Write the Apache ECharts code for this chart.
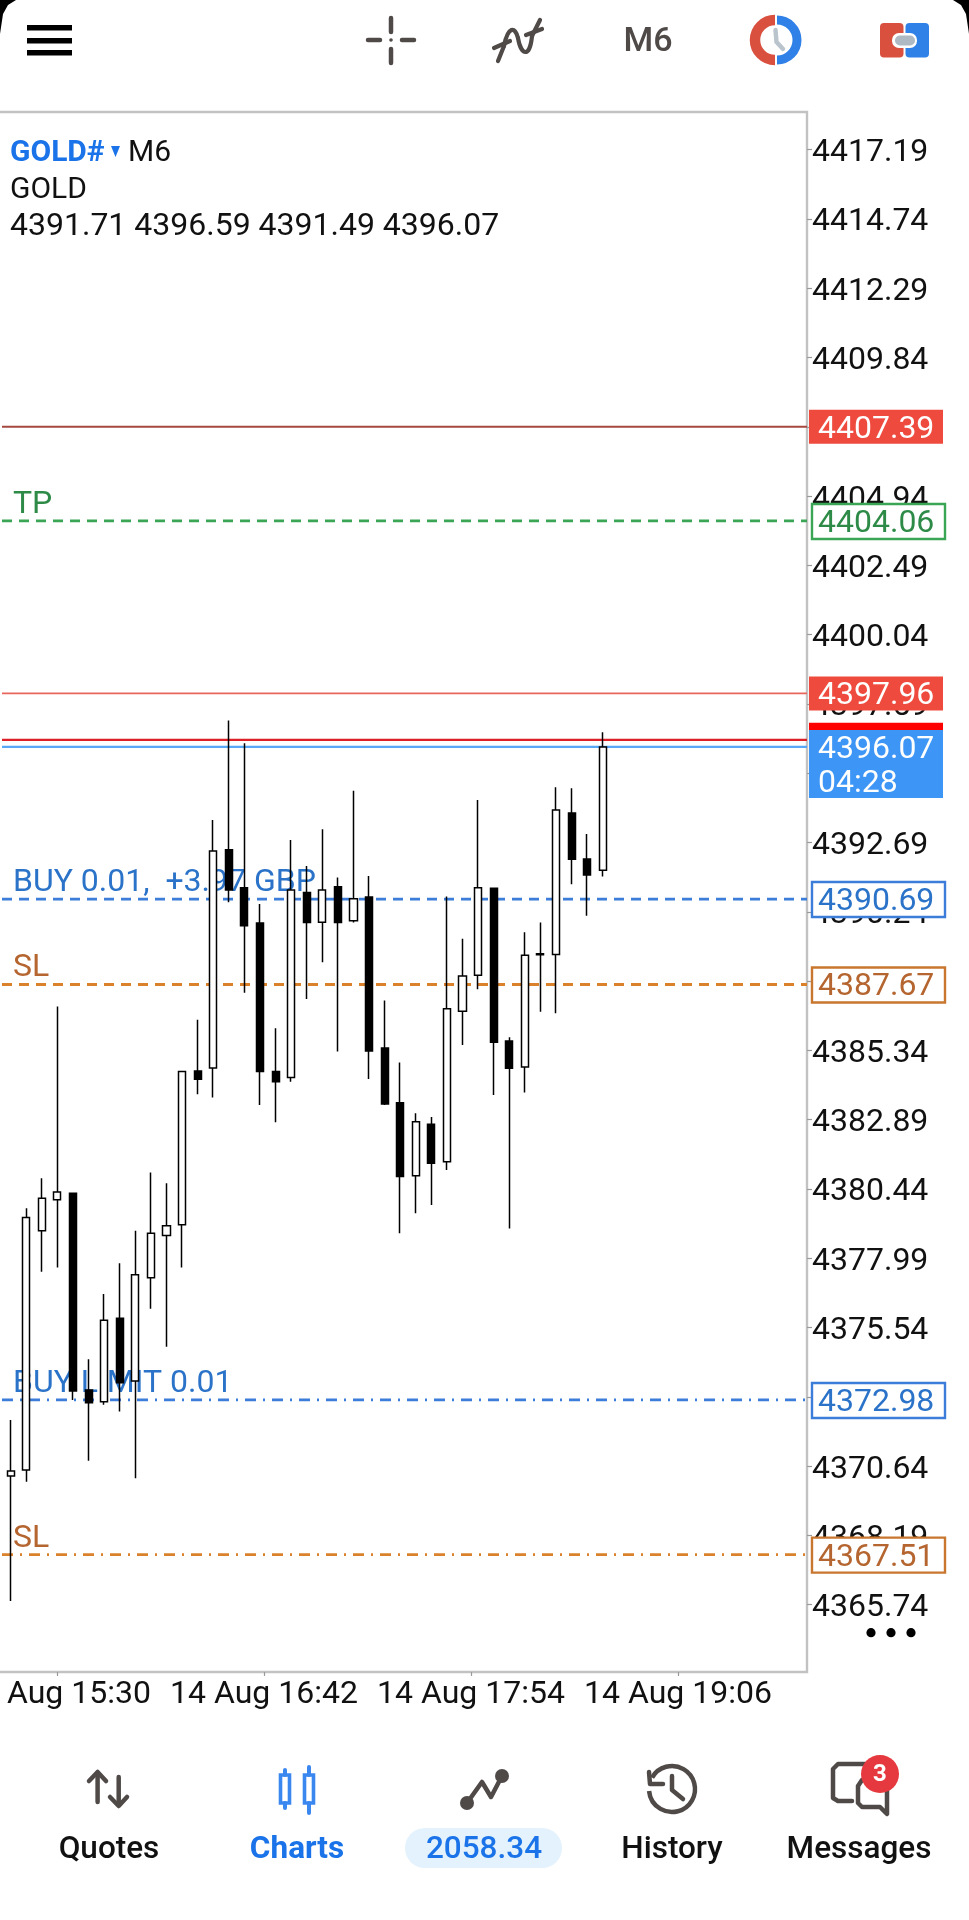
<!DOCTYPE html>
<html>
<head>
<meta charset="utf-8">
<style>html,body{margin:0;padding:0;background:#fff}#c{width:969px;height:1920px}</style>
<script src="https://cdn.jsdelivr.net/npm/echarts@6/dist/echarts.min.js"></script>
</head>
<body>
<div id="c"></div>
<script>
// ---- data ----
const candleOpen = [4370.29,4370.50,4378.96,4380.06,4380.29,4373.33,4372.92,4375.87,4373.65,4377.30,4378.79,4379.17,4384.61,4384.72,4392.43,4391.09,4389.84,4384.59,4384.38,4390.92,4389.87,4391.13,4389.92,4390.76,4385.42,4383.49,4380.91,4382.73,4381.40,4386.72,4388.00,4391.07,4385.67,4384.75,4388.72,4388.73,4393.73,4392.11,4391.71];
const candleClose = [4370.47,4379.43,4380.11,4380.33,4373.30,4372.88,4375.80,4373.59,4377.41,4378.87,4379.14,4384.59,4384.32,4392.39,4391.01,4389.75,4384.59,4384.23,4391.01,4389.86,4391.01,4389.86,4390.70,4385.32,4383.44,4380.88,4382.82,4381.35,4386.81,4387.97,4391.09,4385.63,4384.71,4388.70,4388.76,4393.84,4392.10,4391.54,4396.07];
const candleLow = [4365.87,4370.09,4377.51,4377.66,4372.98,4370.83,4372.81,4372.57,4370.21,4376.20,4374.86,4377.66,4383.79,4383.67,4390.58,4387.38,4383.41,4382.80,4384.23,4387.16,4388.46,4385.30,4389.86,4384.33,4383.41,4378.87,4379.58,4379.87,4381.11,4385.53,4387.50,4383.76,4379.04,4383.85,4386.71,4386.65,4391.21,4390.10,4391.49];
const candleHigh = [4372.27,4379.76,4380.82,4386.89,4380.29,4374.42,4376.73,4377.81,4378.96,4381.02,4380.64,4384.59,4386.42,4393.49,4397.00,4396.20,4390.52,4386.12,4392.78,4391.86,4393.16,4391.45,4394.52,4391.51,4387.10,4384.91,4383.12,4382.98,4390.78,4389.29,4394.19,4391.07,4385.80,4389.52,4389.86,4394.64,4394.61,4392.99,4396.59];
const priceTicks = [4365.74,4368.19,4370.64,4373.09,4375.54,4377.99,4380.44,4382.89,4385.34,4387.79,4390.24,4392.69,4395.14,4397.59,4400.04,4402.49,4404.94,4407.39,4409.84,4412.29,4414.74,4417.19];
const timeTickMinutes = [930,1002,1074,1146];
const timeTickLabels = ['14 Aug 15:30','14 Aug 16:42','14 Aug 17:54','14 Aug 19:06'];
const levelPrices = [4407.39,4404.06,4397.96,4396.32,4396.07,4390.69,4387.67,4372.98,4367.51];
const levelTexts = ['','TP','','','','BUY 0.01,  +3.97 GBP','SL','BUY LIMIT 0.01','SL'];
const levelTags = ['4407.39','4404.06','4397.96','','4396.07','4390.69','4387.67','4372.98','4367.51'];
const countdown = '04:28';
const ohlcHeader = '4391.71 4396.59 4391.49 4396.07';
const balance = '2058.34';
const unread = '3';

// ---- styles ----
const FONT = 'Roboto, sans-serif';
const DARK = '#4f4a48';
const levelStyles = [
  {line:'#a5483f', w:2, dash:null, tag:'fill', fill:'#ef4a3e', text:'#fff'},
  {line:'#3aa655', w:2.8, dash:[10,7], tag:'box', border:'#3aa655', text:'#2e8b47', label:'#2e8b47'},
  {line:'#e8665c', w:1.8, dash:null, tag:'fill', fill:'#ef4a3e', text:'#fff'},
  {line:'#dd2027', w:2.2, dash:null, tag:'fill', fill:'#ff0000', text:'#fff'},
  {line:'#5aa8f5', w:2.2, dash:null, tag:'tall', fill:'#3d95f5', text:'#fff'},
  {line:'#3b7dd8', w:2.8, dash:[10,7], tag:'box', border:'#3b7dd8', text:'#2a73c9', label:'#2a73c9'},
  {line:'#d9822b', w:2.8, dash:[10,7], tag:'box', border:'#c9772f', text:'#b5652f', label:'#b5652f'},
  {line:'#3b7dd8', w:2.8, dash:[11,7,2,7], tag:'box', border:'#3b7dd8', text:'#2a73c9', label:'#2a73c9'},
  {line:'#d9822b', w:2.8, dash:[11,7,2,7], tag:'box', border:'#c9772f', text:'#b5652f', label:'#b5652f'}
];
const Y_MIN = 4363.36, Y_MAX = 4418.52, T_MIN = 909.13, T_MAX = 1190.87;
const GRID_TOP = 112, GRID_H = 1560, FRAME_RIGHT = 807;

function renderLevel(params, api) {
  const i = params.dataIndex, s = levelStyles[i];
  const y = api.coord([T_MIN, api.value(1)])[1];
  const kids = [{type:'line', shape:{x1:2,y1:y,x2:FRAME_RIGHT,y2:y},
    style:{stroke:s.line, lineWidth:s.w, lineDash:s.dash||undefined, fill:null}}];
  if (levelTexts[i]) kids.push({type:'text', style:{text:levelTexts[i], x:13, y:y-16, fill:s.label,
    font:'32px '+FONT, textAlign:'left', textVerticalAlign:'middle'}});
  if (s.tag==='fill') kids.push({type:'rect', shape:{x:809,y:y-17,width:134,height:34}, style:{fill:s.fill}});
  if (s.tag==='tall') kids.push({type:'rect', shape:{x:809,y:y-17,width:134,height:68}, style:{fill:s.fill}});
  if (s.tag==='box') kids.push({type:'rect', shape:{x:812,y:y-17,width:133,height:35}, style:{fill:'#fff',stroke:s.border,lineWidth:2.4}});
  if (levelTags[i]) kids.push({type:'text', style:{text:levelTags[i], x:818, y:y+3, fill:s.text,
    font:'32px '+FONT, textAlign:'left', textVerticalAlign:'middle'}});
  if (s.tag==='tall') kids.push({type:'text', style:{text:countdown, x:818, y:y+37, fill:s.text,
    font:'32px '+FONT, textAlign:'left', textVerticalAlign:'middle'}});
  return {type:'group', children:kids};
}

function T(text,x,y,size,fill,weight,align){
  return {type:'text', z:20, style:{text:text,x:x,y:y,fill:fill,font:(weight||'normal')+' '+size+'px '+FONT,textAlign:align||'left',textVerticalAlign:'middle'}};
}
function R(x,y,w,h,fill,r){return {type:'rect',z:20,shape:{x:x,y:y,width:w,height:h,r:r||0},style:{fill:fill}};}
function PL(pts,stroke,w){return {type:'polyline',z:20,shape:{points:pts},style:{stroke:stroke,lineWidth:w,fill:null,lineCap:'round',lineJoin:'round'}};}
function C(cx,cy,r,fill){return {type:'circle',z:20,shape:{cx:cx,cy:cy,r:r},style:{fill:fill}};}
function A(cx,cy,r,a0,a1,stroke,w){return {type:'arc',z:20,shape:{cx:cx,cy:cy,r:r,startAngle:a0*Math.PI/180,endAngle:a1*Math.PI/180,clockwise:true},style:{stroke:stroke,lineWidth:w,fill:null,lineCap:'butt'}};}
function BZ(x1,y1,c1x,c1y,c2x,c2y,x2,y2,stroke,w){return {type:'bezierCurve',z:20,shape:{x1:x1,y1:y1,cpx1:c1x,cpy1:c1y,cpx2:c2x,cpy2:c2y,x2:x2,y2:y2},style:{stroke:stroke,lineWidth:w,fill:null,lineCap:'round'}};}

const BLUE='#1a73e8', ICONBLUE='#3b87f0';
const chrome = [
  // screen corners
  {type:'polygon',z:20,shape:{points:[[0,0],[16,0],[8,5],[3,14],[0,34]]},style:{fill:'#000'}},
  {type:'polygon',z:20,shape:{points:[[969,0],[953,0],[961,5],[966,14],[969,34]]},style:{fill:'#000'}},
  // hamburger
  R(27,25,45,5.5,'#000'),R(27,38,45,5.5,'#000'),R(27,50,45,5.5,'#000'),
  // crosshair
  PL([[391,18],[391,32]],DARK,4.5),PL([[391,49],[391,63]],DARK,4.5),
  PL([[368,40],[380,40]],DARK,4.5),PL([[402,40],[414,40]],DARK,4.5),C(391,40,1.8,DARK),
  // indicators
  PL([[494,48],[510,41]],DARK,4.2),PL([[526,35],[542,29]],DARK,4.2),
  PL([[498,61],[504,46]],DARK,4.2),PL([[532,36],[540,20]],DARK,4.2),
  BZ(504,46,508,26,515,26,518,38,DARK,4.2),BZ(518,38,521,56,530,58,532,36,DARK,4.2),
  // period
  T('M6',648,42,34,DARK,'500','center'),
  // clock
  A(775,40,20,90,270,'#d9503f',10.5),A(777,40,20,-90,90,'#2f81e8',9),
  PL([[775.5,30],[776.5,42],[783,49]],'#b9c4cc',4.4),
  // trade tabs
  R(880,23,23.5,34.5,'#d9503f',4),R(905.5,23,23.5,34.5,'#2f81e8',4),
  R(892,33,25,15,'#ffffff',7),R(895,35.5,20,10,'#aeb9c4',5),
  // header text
  T('GOLD#',10,153,30,BLUE,'bold'),
  {type:'polygon',z:20,shape:{points:[[111,146],[120,146],[115.5,157]]},style:{fill:BLUE}},
  T('M6',128,153,30,'#111'),T('GOLD',10,190,30,'#111'),T(ohlcHeader,10,227,32,'#111'),
  // dots under price scale
  C(871,1632.7,4.6,'#000'),C(891,1632.7,4.6,'#000'),C(911,1632.7,4.6,'#000'),
  // quotes icon
  PL([[97.6,1773],[97.6,1802]],DARK,4.5),PL([[89,1781],[97.6,1772],[106,1781]],DARK,4.5),
  PL([[118.7,1777],[118.7,1805]],DARK,4.5),PL([[110,1797],[118.7,1806],[127,1797]],DARK,4.5),
  // charts icon
  {type:'rect',z:20,shape:{x:280.5,y:1775,width:9,height:28},style:{fill:'#fff',stroke:ICONBLUE,lineWidth:3.6}},
  {type:'rect',z:20,shape:{x:304.5,y:1775,width:9,height:28},style:{fill:'#fff',stroke:ICONBLUE,lineWidth:3.6}},
  PL([[285,1770],[285,1775]],ICONBLUE,4),PL([[285,1803],[285,1808]],ICONBLUE,4),
  PL([[309,1767],[309,1775]],ICONBLUE,4),PL([[309,1803],[309,1813]],ICONBLUE,4),
  // balance icon
  PL([[467,1803],[482,1782],[491,1797],[502,1776]],DARK,4.5),C(467,1803,7,DARK),C(502,1776,7,DARK),
  // history icon
  A(672,1789,23,-150,175,DARK,4.5),PL([[649,1772],[650,1784],[663,1784]],DARK,4.5),
  PL([[672,1776],[672,1790],[683,1799]],DARK,4.5),
  // messages icon
  PL([[866,1764],[838,1764],[833,1769],[833,1798],[838,1801],[852,1801]],DARK,4.5),
  PL([[862,1780],[858,1786],[858,1803],[862,1807],[880,1807],[887,1814],[887,1786]],DARK,4.5),
  C(880,1774,19,'#e5393f'),T(unread,880,1775,24,'#fff','bold','center'),
  // nav
  R(405,1828,157,40,'#e3f2fc',20),
  T('Quotes',109,1850.5,31.5,'#111','500','center'),
  T('Charts',297,1850.5,31.5,BLUE,'bold','center'),
  T(balance,484,1850.5,31.5,BLUE,'500','center'),
  T('History',672,1850.5,31.5,'#111','500','center'),
  T('Messages',859,1850.5,31.5,'#111','500','center')
];

const chart = echarts.init(document.getElementById('c'), null, {renderer:'canvas'});
chart.setOption({
  animation:false,
  backgroundColor:'#fff',
  textStyle:{fontFamily:FONT},
  grid:[
    {left:-3, top:GRID_TOP, width:810, height:GRID_H, show:true, backgroundColor:'transparent', borderColor:'#c2c2c2', borderWidth:2.4, z:0, outerBoundsMode:'none'},
    {left:2.9, top:GRID_TOP, width:810.16, height:GRID_H, show:false, outerBoundsMode:'none'}
  ],
  xAxis:[
    {type:'value', gridIndex:0, min:T_MIN, max:T_MAX, splitLine:{show:false}, axisLine:{show:false},
     axisTick:{show:true, length:4, lineStyle:{color:'#9a9a9a',width:1.2}, customValues:timeTickMinutes},
     axisLabel:{customValues:timeTickMinutes, margin:7, fontFamily:FONT, fontSize:32, color:'#111', hideOverlap:false,
       formatter:v=>timeTickLabels[timeTickMinutes.indexOf(v)]||''}},
    {type:'category', gridIndex:1, data:candleOpen.map((_,i)=>String(i)), max:51, show:false, boundaryGap:true}
  ],
  yAxis:[
    {type:'value', gridIndex:0, position:'right', min:Y_MIN, max:Y_MAX, splitLine:{show:false}, axisLine:{show:false},
     axisTick:{show:true, length:5, lineStyle:{color:'#9a9a9a',width:1.2}, customValues:priceTicks},
     axisLabel:{customValues:priceTicks, margin:5, fontFamily:FONT, fontSize:32, color:'#111', hideOverlap:false, verticalAlign:'top', lineHeight:7,
       formatter:v=>v.toFixed(2)}},
    {type:'value', gridIndex:1, min:Y_MIN, max:Y_MAX, show:false, splitLine:{show:false}}
  ],
  graphic:{elements:chrome},
  series:[
    {type:'custom', name:'levels', xAxisIndex:0, yAxisIndex:0, z:3, silent:true, clip:false,
     encode:{x:0,y:1}, renderItem:renderLevel, data:levelPrices.map(p=>[T_MIN,p])},
    {type:'candlestick', name:'GOLD#', xAxisIndex:1, yAxisIndex:1, z:6, barWidth:7.6, silent:true,
     itemStyle:{color:'#ffffff',color0:'#000000',borderColor:'#000000',borderColor0:'#000000',borderWidth:1.5},
     data:candleOpen.map((o,i)=>[o,candleClose[i],candleLow[i],candleHigh[i]])}
  ]
});
</script>
</body>
</html>
